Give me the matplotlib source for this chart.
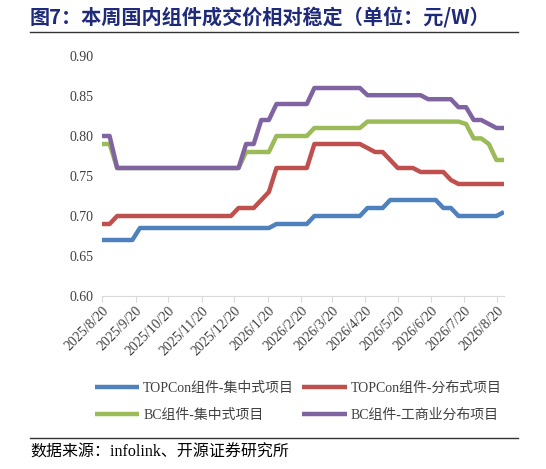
import matplotlib
matplotlib.use("Agg")
import matplotlib.pyplot as plt
import numpy as np
import datetime as dt

start = dt.date(2025, 8, 20)
dates = [start + dt.timedelta(days=7 * k) for k in range(54)]
tick_labels = ["2025/8/20", "2025/9/20", "2025/10/20", "2025/11/20", "2025/12/20", "2026/1/20",
               "2026/2/20", "2026/3/20", "2026/4/20", "2026/5/20", "2026/6/20", "2026/7/20", "2026/8/20"]

topcon_central = [0.67]*5 + [0.685]*18 + [0.69]*5 + [0.70]*7 + [0.71]*3 + [0.72]*7 + [0.71]*2 + [0.70]*6 + [0.705]
topcon_dist = [0.69]*2 + [0.70]*16 + [0.71]*3 + [0.72, 0.73] + [0.76]*5 + [0.79]*7 + [0.785, 0.78, 0.78, 0.77, 0.76, 0.76, 0.76] + [0.755]*4 + [0.745] + [0.74]*7
bc_central = [0.79]*2 + [0.76]*17 + [0.78]*4 + [0.80]*5 + [0.81]*7 + [0.818]*13 + [0.815, 0.797, 0.797, 0.79, 0.77, 0.77]
bc_ci = [0.80]*2 + [0.76]*17 + [0.79]*2 + [0.82]*2 + [0.84]*5 + [0.86]*7 + [0.851]*8 + [0.846]*4 + [0.836]*2 + [0.82]*2 + [0.815, 0.81, 0.81]

names = ["TOPCon组件-集中式项目", "TOPCon组件-分布式项目", "BC组件-集中式项目", "BC组件-工商业分布项目"]
colors = ["#4F81BD", "#C0504D", "#9BBB59", "#8064A2"]
series = [topcon_central, topcon_dist, bc_central, bc_ci]

plt.rcParams['font.family'] = ['Liberation Serif', 'Noto Sans CJK SC']
fig = plt.figure(figsize=(5.46, 4.69), dpi=100)
ax = fig.add_axes([102/546, 1-296/469, (504-102)/546, (296-56)/469])
lines = []
for s, c, n in zip(series, colors, names):
    l, = ax.plot(dates, s, color=c, lw=3.2, label=n, solid_capstyle='butt')
    lines.append(l)

ax.set_ylim(0.6, 0.9)
yt = np.arange(0.6, 0.901, 0.05)
ax.set_yticks(yt)
ax.set_yticklabels([f"{v:.2f}" for v in yt], fontsize=10, color='#404040')
ax.set_xlim(dates[0], dates[-1])
ticks = [dt.date(2025 + (7 + m) // 12, (7 + m) % 12 + 1, 20) for m in range(13)]
ax.set_xticks(ticks)
ax.set_xticklabels(tick_labels, rotation=45, ha='right', rotation_mode='anchor', fontsize=10, color='#404040')
for sp in ['top', 'right', 'left']:
    ax.spines[sp].set_visible(False)
ax.spines['bottom'].set_color('#D9D9D9')
ax.tick_params(axis='y', length=0, pad=6)
ax.tick_params(axis='x', length=4, color='#D9D9D9', pad=2)

order = [0, 2, 1, 3]
fig.legend([lines[i] for i in order], [names[i] for i in order], ncol=2, loc='upper left',
           bbox_to_anchor=(82/546, 1-369/469), frameon=False,
           fontsize=10, handlelength=3.2, columnspacing=0.6, labelspacing=1.0, handletextpad=0.3,
           labelcolor='#404040')

fig.text(30/546, 1-18/469, "图7：本周国内组件成交价相对稳定（单位：元/W）", fontsize=14.5, fontweight='bold',
         color='#1F2A7A', va='center', family=['Noto Sans CJK SC', 'Liberation Serif'])
fig.add_artist(plt.Line2D([30/546, 518/546], [1-32/469, 1-32/469], color='#333333', lw=1))
fig.add_artist(plt.Line2D([30/546, 518/546], [1-438/469, 1-438/469], color='#333333', lw=1))
fig.text(30/546, 1-453/469, "数据来源：infolink、开源证券研究所", fontsize=11.5, color='black', va='center')

fig.savefig("out.png", dpi=100)
